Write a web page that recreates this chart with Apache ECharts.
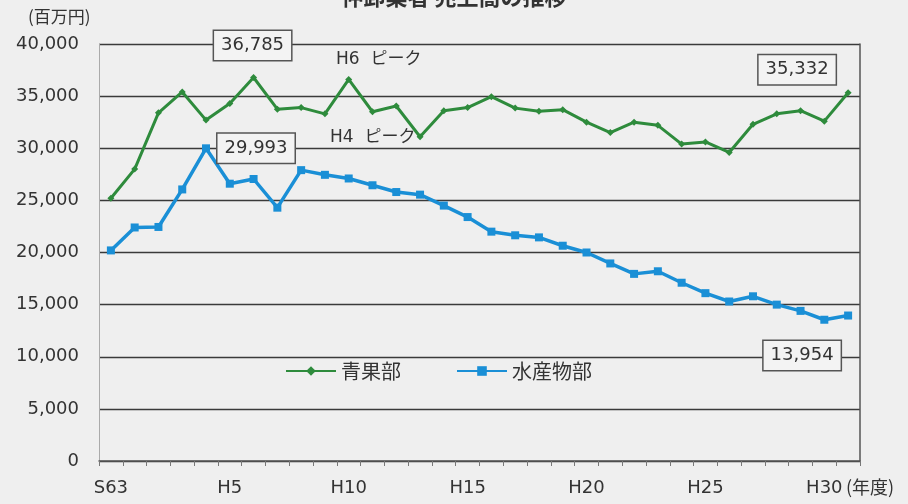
<!DOCTYPE html>
<html><head><meta charset="utf-8">
<script src="https://cdn.jsdelivr.net/npm/echarts@6/dist/echarts.min.js"></script>
<style>html,body{margin:0;padding:0;background:#efefef;}#c{width:908px;height:504px;}</style>
</head><body><div id="c"></div>
<script>
const categories = ['S63','H1','H2','H3','H4','H5','H6','H7','H8','H9','H10','H11','H12','H13','H14','H15','H16','H17','H18','H19','H20','H21','H22','H23','H24','H25','H26','H27','H28','H29','H30','R1'];
const shownTicks = ['S63','H5','H10','H15','H20','H25','H30'];
const seika = [25200,28000,33400,35400,32700,34300,36785,33750,33900,33300,36600,33500,34050,31100,33600,33900,34950,33850,33550,33700,32500,31500,32500,32200,30400,30600,29600,32300,33300,33600,32600,35332];
const suisan = [20200,22400,22450,26050,29993,26600,27050,24300,27900,27450,27100,26450,25800,25550,24500,23400,22000,21650,21450,20650,20000,18950,17950,18200,17100,16100,15300,15800,15000,14400,13550,13954];
const seriesNames = ['青果部','水産物部'];
const yTicks = {min:0, max:40000, interval:5000};

const FONT = "'DejaVu Sans','Noto Sans CJK JP',sans-serif";
const JP = "'Noto Sans CJK JP',sans-serif";
const boxLabel = (offset) => ({
  show:true, position:'inside', offset:offset,
  formatter:(p)=>p.value.toLocaleString('en-US'),
  color:'#333', fontSize:18, fontFamily:FONT,
  backgroundColor:'#f3f3f3', borderColor:'#555', borderWidth:1.5,
  padding:[6,7,5,7]
});
const labelled = {0:{6:[-1,-32],31:[-51,-23]}, 1:{4:[50,0],31:[-46,40]}};
function build(arr, si){
  return arr.map((v,i)=> labelled[si][i] ? {value:v, label:boxLabel(labelled[si][i])} : v);
}

const chart = echarts.init(document.getElementById('c'), null, {renderer:'canvas'});
chart.setOption({
  backgroundColor:'#efefef',
  animation:false,
  title:{text:'仲卸業者 売上高の推移', left:'center', top:-19,
    textStyle:{fontFamily:JP, fontSize:22, fontWeight:'bold', color:'#333'}},
  grid:{left:99, right:48, top:44, bottom:43, show:false},
  legend:{data:seriesNames, left:280, top:356, itemWidth:50, itemHeight:12, itemGap:55,
    textStyle:{fontFamily:JP, fontSize:20, color:'#333'}},
  xAxis:{type:'category', data:categories, boundaryGap:true,
    axisLine:{lineStyle:{color:'#555', width:1.5}},
    axisTick:{show:true, interval:0, length:5, lineStyle:{color:'#777'}},
    axisLabel:{interval:(i,v)=>shownTicks.indexOf(v)>=0, margin:18, color:'#333', fontSize:18, fontFamily:FONT}},
  yAxis:[{type:'value', min:yTicks.min, max:yTicks.max, interval:yTicks.interval,
    axisLine:{show:true, lineStyle:{color:'#aaa', width:1}},
    axisLabel:{margin:20, color:'#333', fontSize:18, fontFamily:FONT, formatter:(v)=>v.toLocaleString('en-US')},
    splitLine:{lineStyle:{color:'#3a3a3a', width:1.4}}},
    {type:'value', position:'right', min:yTicks.min, max:yTicks.max, interval:yTicks.interval,
    axisLine:{show:true, lineStyle:{color:'#555', width:1.5}}, axisLabel:{show:false}, axisTick:{show:false}, splitLine:{show:false}}],
  series:[
    {name:seriesNames[0], type:'line', data:build(seika,0), symbol:'diamond', symbolSize:7,
      itemStyle:{color:'#2e8b3c'}, lineStyle:{color:'#2e8b3c', width:3}, z:3},
    {name:seriesNames[1], type:'line', data:build(suisan,1), symbol:'rect', symbolSize:8,
      itemStyle:{color:'#1a8fd6'}, lineStyle:{color:'#1a8fd6', width:3.5}, z:2}
  ],
  graphic:[
    {type:'text', left:28, top:8, style:{text:'(百万円)', font:'17px '+JP, fill:'#333'}},
    {type:'text', left:846, top:478, style:{text:'(年度)', font:'18px '+JP, fill:'#333'}},
    {type:'text', left:336, top:51, z:1, style:{text:'H6  ピーク', font:'17px '+FONT, fill:'#333'}},
    {type:'text', left:330, top:129, z:1, style:{text:'H4  ピーク', font:'17px '+FONT, fill:'#333'}}
  ]
});
</script></body></html>
